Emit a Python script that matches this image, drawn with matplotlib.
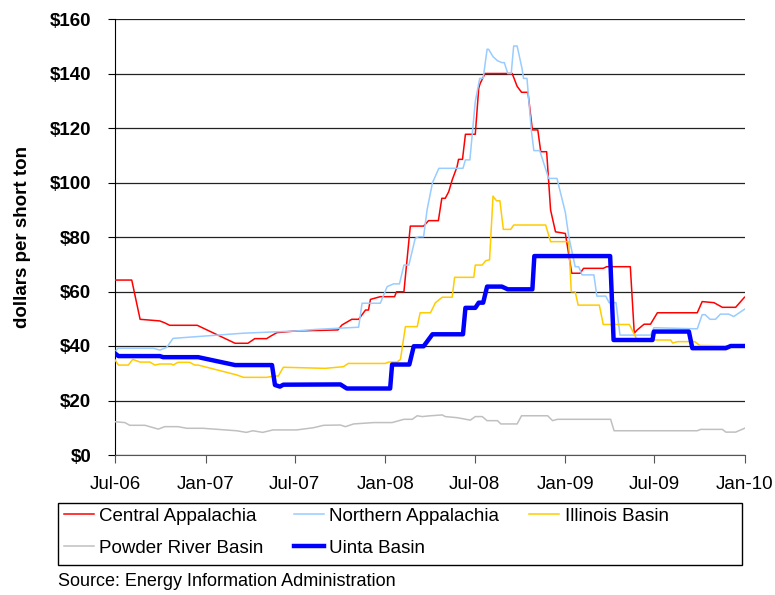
import matplotlib
matplotlib.use('Agg')
import matplotlib.pyplot as plt
import matplotlib.dates as mdates
from matplotlib.patches import Rectangle
import pandas as pd

# weekly spot coal prices, dollars per short ton (points where the series changes)
central_dates = ['2006-07-01', '2006-08-04', '2006-08-21', '2006-09-30', '2006-10-10', '2006-10-20',
                 '2006-12-15', '2007-03-02', '2007-03-28', '2007-04-11', '2007-05-05', '2007-05-14',
                 '2007-05-26', '2007-07-02', '2007-09-27', '2007-10-05', '2007-10-25', '2007-11-08',
                 '2007-11-22', '2007-11-28', '2007-12-02', '2007-12-22', '2008-01-20', '2008-01-24',
                 '2008-02-08', '2008-02-21', '2008-03-19', '2008-03-29', '2008-04-18', '2008-04-25',
                 '2008-05-02', '2008-05-09', '2008-05-16', '2008-05-26', '2008-05-29', '2008-06-06',
                 '2008-06-12', '2008-07-02', '2008-07-09', '2008-07-12', '2008-07-22', '2008-09-15',
                 '2008-09-25', '2008-10-04', '2008-10-17', '2008-10-26', '2008-11-06', '2008-11-12',
                 '2008-11-24', '2008-12-02', '2008-12-12', '2009-01-01', '2009-01-14', '2009-01-31',
                 '2009-02-07', '2009-03-19', '2009-03-26', '2009-05-13', '2009-05-21', '2009-05-27',
                 '2009-06-10', '2009-06-23', '2009-07-07', '2009-09-26', '2009-10-06', '2009-10-30',
                 '2009-11-16', '2009-12-13', '2009-12-31']
central_vals = [64.2, 64.2, 49.8, 49.2, 48.5, 47.6,
                47.6, 41.0, 41.0, 42.7, 42.7, 43.7,
                44.9, 45.5, 45.9, 47.7, 49.8, 49.8,
                53.2, 53.2, 57.1, 58.1, 58.1, 59.9,
                59.9, 84.0, 84.0, 86.0, 86.0, 94.2,
                94.2, 96.6, 100.9, 105.8, 108.5, 108.5,
                117.7, 117.7, 134.6, 136.4, 140.0, 140.0,
                135.3, 133.1, 133.1, 119.3, 119.3, 111.3,
                111.3, 89.9, 81.9, 81.3, 66.7, 66.7,
                68.5, 68.5, 69.1, 69.1, 44.7, 45.9,
                48.0, 48.0, 52.2, 52.2, 56.3, 55.9,
                54.2, 54.2, 57.9]

northern_dates = ['2006-07-01', '2006-07-07', '2006-09-17', '2006-09-30', '2006-10-14', '2006-10-27',
                  '2007-03-19', '2007-07-02', '2007-08-15', '2007-11-08', '2007-11-15', '2007-12-22',
                  '2008-01-05', '2008-01-18', '2008-01-30', '2008-02-08', '2008-02-18', '2008-03-02',
                  '2008-03-09', '2008-03-19', '2008-03-26', '2008-04-06', '2008-04-19', '2008-06-07',
                  '2008-06-12', '2008-06-21', '2008-07-02', '2008-07-11', '2008-07-18', '2008-07-26',
                  '2008-07-29', '2008-08-07', '2008-08-16', '2008-08-25', '2008-08-30', '2008-09-06',
                  '2008-09-13', '2008-09-18', '2008-09-25', '2008-10-05', '2008-10-08', '2008-10-15',
                  '2008-10-24', '2008-10-29', '2008-11-10', '2008-11-28', '2008-12-15', '2009-01-01',
                  '2009-01-08', '2009-01-18', '2009-01-21', '2009-01-28', '2009-02-04', '2009-02-28',
                  '2009-03-06', '2009-03-24', '2009-03-31', '2009-04-14', '2009-04-22', '2009-06-23',
                  '2009-06-30', '2009-09-26', '2009-10-06', '2009-10-12', '2009-10-22', '2009-11-02',
                  '2009-11-12', '2009-11-29', '2009-12-09', '2009-12-31']
northern_vals = [37.9, 39.2, 39.2, 38.5, 39.5, 42.8,
                 44.7, 45.5, 46.1, 46.9, 55.7, 55.7,
                 61.8, 62.8, 62.8, 69.7, 69.7, 79.5,
                 80.1, 80.1, 89.9, 99.9, 105.2, 105.2,
                 108.3, 108.3, 129.7, 138.2, 138.2, 148.9,
                 148.9, 146.2, 144.7, 144.0, 144.0, 140.0,
                 140.0, 150.1, 150.1, 141.8, 138.2, 138.2,
                 119.0, 111.7, 111.7, 101.5, 101.5, 89.0,
                 80.1, 71.6, 69.1, 69.1, 66.1, 66.1,
                 58.3, 58.3, 55.9, 55.9, 44.0, 44.0,
                 46.7, 46.3, 51.5, 51.5, 49.8, 49.8,
                 51.7, 51.7, 50.8, 53.5]

illinois_dates = ['2006-07-01', '2006-07-08', '2006-07-28', '2006-08-06', '2006-08-21', '2006-09-10',
                  '2006-09-20', '2006-09-30', '2006-10-24', '2006-10-27', '2006-11-06', '2006-11-30',
                  '2006-12-10', '2006-12-17', '2007-03-05', '2007-03-19', '2007-05-05', '2007-05-22',
                  '2007-05-29', '2007-06-08', '2007-09-01', '2007-10-08', '2007-10-18', '2008-01-01',
                  '2008-01-08', '2008-01-25', '2008-02-01', '2008-02-11', '2008-03-06', '2008-03-12',
                  '2008-04-02', '2008-04-12', '2008-04-26', '2008-05-16', '2008-05-21', '2008-06-29',
                  '2008-07-02', '2008-07-16', '2008-07-23', '2008-07-31', '2008-08-07', '2008-08-14',
                  '2008-08-21', '2008-08-28', '2008-09-12', '2008-09-18', '2008-11-22', '2008-12-02',
                  '2009-01-08', '2009-01-13', '2009-01-21', '2009-01-27', '2009-03-11', '2009-03-19',
                  '2009-05-11', '2009-05-27', '2009-08-03', '2009-08-07', '2009-08-17', '2009-09-21',
                  '2009-10-01', '2009-12-31']
illinois_vals = [34.9, 33.0, 33.0, 35.1, 34.1, 34.1,
                 33.0, 33.4, 33.4, 33.0, 34.0, 34.0,
                 33.0, 33.0, 29.4, 28.5, 28.5, 29.0,
                 29.0, 32.2, 31.8, 32.4, 33.6, 33.6,
                 34.1, 34.1, 35.1, 47.1, 47.1, 52.2,
                 52.2, 55.9, 57.9, 57.9, 65.2, 65.2,
                 69.7, 69.7, 71.3, 71.6, 95.0, 93.3,
                 93.3, 82.8, 82.8, 84.4, 84.4, 78.3,
                 78.3, 59.9, 59.9, 55.0, 55.0, 47.9,
                 47.9, 42.2, 42.2, 41.1, 41.6, 41.6,
                 40.2, 40.0]

powder_dates = ['2006-07-01', '2006-07-21', '2006-07-31', '2006-08-31', '2006-09-27', '2006-10-10',
                '2006-11-06', '2006-11-24', '2006-12-27', '2007-03-05', '2007-03-25', '2007-04-07',
                '2007-04-27', '2007-05-18', '2007-07-05', '2007-08-08', '2007-08-29', '2007-10-02',
                '2007-10-12', '2007-10-29', '2007-12-09', '2008-01-15', '2008-02-08', '2008-02-25',
                '2008-03-06', '2008-03-16', '2008-04-02', '2008-04-26', '2008-05-02', '2008-05-26',
                '2008-06-22', '2008-07-02', '2008-07-16', '2008-07-26', '2008-08-16', '2008-08-23',
                '2008-09-25', '2008-10-04', '2008-11-26', '2008-12-06', '2008-12-16', '2009-04-03',
                '2009-04-10', '2009-09-26', '2009-10-03', '2009-11-16', '2009-11-23', '2009-12-13',
                '2009-12-31']
powder_vals = [12.2, 11.9, 10.9, 10.9, 9.5, 10.4,
               10.4, 9.8, 9.8, 8.9, 8.3, 8.9,
               8.3, 9.2, 9.2, 10.0, 10.9, 11.0,
               10.4, 11.4, 11.9, 11.9, 13.1, 13.1,
               14.4, 14.1, 14.4, 14.7, 14.1, 13.7,
               12.8, 14.1, 14.1, 12.6, 12.6, 11.4,
               11.4, 14.4, 14.4, 12.6, 13.1, 13.1,
               8.9, 8.9, 9.4, 9.4, 8.4, 8.4,
               9.8]

uinta_dates = ['2006-07-01', '2006-07-08', '2006-09-30', '2006-10-07', '2006-12-17', '2007-03-02',
               '2007-05-16', '2007-05-22', '2007-06-01', '2007-06-08', '2007-10-02', '2007-10-15',
               '2008-01-11', '2008-01-15', '2008-02-19', '2008-02-28', '2008-03-19', '2008-04-06',
               '2008-06-07', '2008-06-12', '2008-07-02', '2008-07-09', '2008-07-18', '2008-07-26',
               '2008-08-25', '2008-09-06', '2008-10-26', '2008-10-30', '2009-04-02', '2009-04-09',
               '2009-06-27', '2009-06-30', '2009-09-09', '2009-09-16', '2009-11-23', '2009-12-03',
               '2009-12-31']
uinta_vals = [37.3, 36.3, 36.3, 35.9, 35.9, 33.0,
              33.0, 25.7, 25.1, 25.8, 25.9, 24.4,
              24.4, 33.2, 33.2, 39.9, 39.9, 44.3,
              44.3, 54.0, 54.0, 55.9, 55.9, 61.8,
              61.8, 60.8, 60.8, 73.0, 73.0, 42.2,
              42.2, 45.3, 45.3, 39.2, 39.2, 40.0,
              40.0]

tick_dates = ['2006-07-01', '2007-01-01', '2007-07-01', '2008-01-01',
              '2008-07-01', '2009-01-01', '2009-07-01', '2010-01-01']
y_ticks = [0, 20, 40, 60, 80, 100, 120, 140, 160]

plt.rcParams['font.family'] = ['Liberation Sans', 'DejaVu Sans']

fig = plt.figure(figsize=(7.75, 5.95), dpi=100)
ax = fig.add_axes([115 / 775, 140 / 595, 630 / 775, 436 / 595])

series = [
    ('Central Appalachia', central_dates, central_vals, '#FF0000', 1.1),
    ('Northern Appalachia', northern_dates, northern_vals, '#99CCFF', 1.1),
    ('Illinois Basin', illinois_dates, illinois_vals, '#FFCC00', 1.1),
    ('Powder River Basin', powder_dates, powder_vals, '#C0C0C0', 1.1),
    ('Uinta Basin', uinta_dates, uinta_vals, '#0000FF', 3.2),
]

lines = {}
for name, d, v, c, lw in series:
    ln, = ax.plot(pd.to_datetime(d), v, color=c, lw=lw, label=name, zorder=3)
    lines[name] = ln

ax.set_xlim(pd.Timestamp('2006-07-01'), pd.Timestamp('2010-01-01'))
ax.set_ylim(0, 160)

ax.set_xticks(pd.to_datetime(tick_dates))
ax.xaxis.set_major_formatter(mdates.DateFormatter('%b-%y'))
ax.set_yticks(y_ticks)
ax.set_yticklabels(['${}'.format(t) for t in y_ticks], fontweight='bold')

ax.tick_params(axis='x', labelsize=13.5, length=6, pad=9, color='#555555')
ax.tick_params(axis='y', labelsize=13.5, length=5, pad=12)

ax.grid(axis='y', color='#222222', lw=0.9, zorder=1)
for s in ['top', 'right']:
    ax.spines[s].set_visible(False)
ax.spines['left'].set_color('black')
ax.spines['bottom'].set_color('#555555')

ax.set_ylabel('dollars per short ton', fontsize=13.5, fontweight='bold')
ax.yaxis.set_label_coords(-0.133, 0.5)

# legend reads left to right, so reorder for matplotlib's column filling
order = ['Central Appalachia', 'Powder River Basin', 'Northern Appalachia',
         'Uinta Basin', 'Illinois Basin']
leg = fig.legend([lines[n] for n in order], order, ncol=3,
                 bbox_to_anchor=(60 / 775, 1 - 504 / 595),
                 loc='upper left', fontsize=13.5, frameon=False,
                 handlelength=1.6, handletextpad=0.3, columnspacing=1.6,
                 borderaxespad=0, labelspacing=0.8, borderpad=0.2)

# plain box around the legend
fig.add_artist(Rectangle((58 / 775, 1 - 565 / 595), 684 / 775, 62 / 595,
                         transform=fig.transFigure, fill=False,
                         edgecolor='black', lw=1.0))

fig.text(58 / 775, 1 - 581 / 595, 'Source: Energy Information Administration',
         fontsize=13, va='center', ha='left')

fig.savefig('out.png', dpi=100)
